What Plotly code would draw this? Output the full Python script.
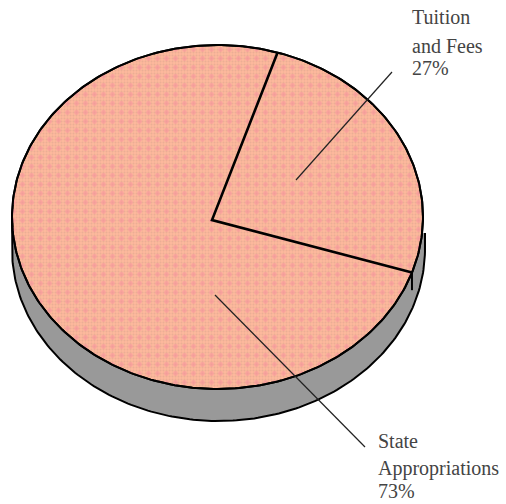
import numpy as np
import plotly.graph_objects as go

categories = ["Tuition and Fees", "State Appropriations"]
shares = [27, 73]
label_lines = [["Tuition", "and Fees", "27%"], ["State", "Appropriations", "73%"]]

W, H = 506, 504
cx, cy, rx, ry = 217.5, 217.0, 205.5, 172.0
vx, vy = 212.0, 220.0
depth = 32.0
wall_grow = 1.0
start_deg = 73.0
foreshorten = 0.945


def rim(deg, dy=0.0):
    t = np.radians(deg)
    return cx + rx * np.cos(t), cy - ry * np.sin(t) + dy


fig = go.Figure()


def line(xs, ys, width=2.2, color="black"):
    fig.add_trace(go.Scatter(x=xs, y=ys, mode="lines", line=dict(color=color, width=width),
                             hoverinfo="skip", showlegend=False))


# side wall
a = np.linspace(0, 360, 361)
xt, yt = rim(a)
lower = np.radians(np.linspace(180, 360, 181))
xb = cx + wall_grow + (rx + wall_grow) * np.cos(lower)
yb = cy + depth - ry * np.sin(lower)
wx = np.concatenate([[cx - rx], xb, [cx + rx + 2 * wall_grow]])
wy = np.concatenate([[cy], yb, [cy + depth / 2]])
fig.add_trace(go.Scatter(x=wx, y=wy, mode="lines", fill="toself", fillcolor="#999999",
                         line=dict(color="black", width=2), hoverinfo="skip", showlegend=False))

# top face, fine dots then coarse pink lattice
fig.add_trace(go.Scatter(x=xt, y=yt, mode="lines", fill="toself", fillcolor="#fbb79c",
                         fillpattern=dict(shape=".", size=3, solidity=0.35,
                                          fgcolor="#d9a48e", bgcolor="#fdb89c"),
                         line=dict(color="black", width=2), hoverinfo="skip", showlegend=False))
fig.add_trace(go.Scatter(x=xt, y=yt, mode="lines", fill="toself", fillcolor="rgba(0,0,0,0)",
                         fillpattern=dict(shape=".", size=9, solidity=0.22,
                                          fgcolor="#f58d9d", bgcolor="rgba(0,0,0,0)"),
                         line=dict(color="black", width=2), hoverinfo="skip", showlegend=False))

# slice edges derived from the shares
end_deg = start_deg - 360 * shares[0] / sum(shares) * foreshorten
sx, sy = rim(start_deg)
ex, ey = rim(end_deg)
line([sx, vx, ex], [sy, vy, ey], width=2.6)
wx2, wy2 = rim(end_deg, depth * 0.55)
line([ex, wx2], [ey, wy2], width=2)

# leader lines
line([296, 392], [180, 72], width=1.2, color="#222222")
line([215, 365], [295, 447], width=1.2, color="#222222")

annotations = []
for lines, x, ys in [(label_lines[0], 410, [17, 46, 68]), (label_lines[1], 376, [441, 468, 491])]:
    for txt, y in zip(lines, ys):
        annotations.append(dict(x=x, y=y, text=txt, xref="x", yref="y", showarrow=False,
                                xanchor="left", yanchor="middle",
                                font=dict(family="Liberation Serif", size=20, color="#444444")))

fig.update_layout(
    width=W, height=H, margin=dict(l=0, r=0, t=0, b=0),
    paper_bgcolor="white", plot_bgcolor="white", showlegend=False,
    xaxis=dict(range=[0, W], visible=False, fixedrange=True),
    yaxis=dict(range=[H, 0], visible=False, fixedrange=True),
    annotations=annotations,
)
fig.write_html("out.html", config=dict(displayModeBar=False),
               post_script="document.body.style.margin='0';document.body.style.overflow='hidden';")
